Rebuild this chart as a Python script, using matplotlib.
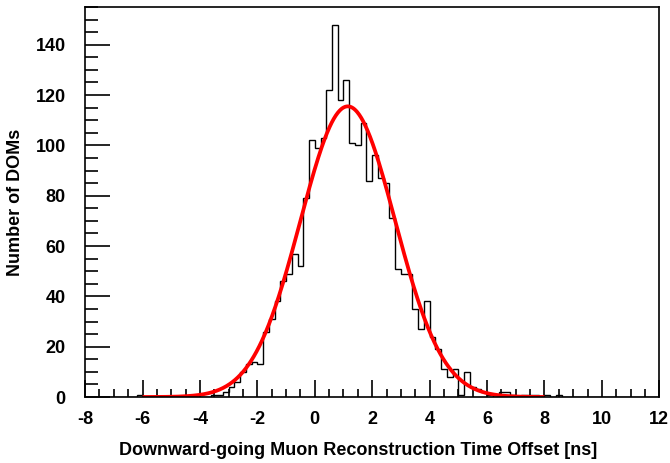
import numpy as np
import matplotlib.pyplot as plt
from matplotlib.ticker import MultipleLocator

plt.rcParams['font.family'] = ['Liberation Sans', 'DejaVu Sans']
plt.rcParams['font.weight'] = 'bold'
plt.rcParams['axes.unicode_minus'] = False

# histogram of time offsets, 0.2 ns bins from -8 to 12 ns
bin_edges = np.round(np.arange(-8.0, 12.0001, 0.2), 3)
counts = np.zeros(len(bin_edges) - 1)

# non-empty bins: (left edge, count)
filled_left = [-6.2, -3.6, -3.4, -3.2, -3.0, -2.8, -2.6, -2.4, -2.2, -2.0,
               -1.8, -1.6, -1.4, -1.2, -1.0, -0.8, -0.6, -0.4, -0.2, 0.0,
               0.2, 0.4, 0.6, 0.8, 1.0, 1.2, 1.4, 1.6, 1.8, 2.0,
               2.2, 2.4, 2.6, 2.8, 3.0, 3.2, 3.4, 3.6, 3.8, 4.0,
               4.2, 4.4, 4.6, 4.8, 5.0, 5.2, 5.4, 5.6, 5.8, 6.0,
               6.4, 6.6, 6.8, 7.2, 7.4, 7.6, 8.0, 8.4]
filled_counts = [1, 1, 1, 2, 4, 6, 10, 13, 14, 13,
                 26, 31, 38, 46, 49, 57, 52, 79, 102, 99,
                 103, 122, 148, 118, 126, 101, 100, 109, 86, 96,
                 87, 85, 71, 51, 49, 49, 35, 27, 38, 24,
                 19, 11, 8, 11, 1, 10, 4, 3, 2, 1,
                 2, 2, 1, 1, 1, 1, 1, 1]

for left, c in zip(filled_left, filled_counts):
    idx = int(round((left + 8.0) / 0.2))
    counts[idx] = c

# gaussian fit parameters
fit_amp = 115.5
fit_mean = 1.15
fit_sigma = 1.65
fit_range = (-6.0, 8.0)

fig = plt.figure(figsize=(6.7, 4.63), dpi=100)
ax = fig.add_axes([0.127, 0.1425, 0.857, 0.8425])

ax.stairs(counts, bin_edges, color='black', linewidth=1.0, baseline=0)

xf = np.linspace(fit_range[0], fit_range[1], 600)
yf = fit_amp * np.exp(-0.5 * ((xf - fit_mean) / fit_sigma) ** 2)
ax.plot(xf, yf, color='#ff0000', linewidth=2.7, solid_capstyle='butt')

ax.set_xlim(-8, 12)
ax.set_ylim(0, 155)

ax.xaxis.set_major_locator(MultipleLocator(2))
ax.xaxis.set_minor_locator(MultipleLocator(0.5))
ax.yaxis.set_major_locator(MultipleLocator(20))
ax.yaxis.set_minor_locator(MultipleLocator(5))

ax.tick_params(axis='x', which='major', direction='in', length=12, width=1.2,
               top=False, labelsize=13, pad=10)
ax.tick_params(axis='x', which='minor', direction='in', length=6, width=1.2, top=False)
ax.tick_params(axis='y', which='major', direction='in', length=18, width=1.2,
               right=False, labelsize=13, pad=14)
ax.tick_params(axis='y', which='minor', direction='in', length=9, width=1.2, right=False)

for spine in ax.spines.values():
    spine.set_linewidth(1.2)

ax.set_xlabel('Downward-going Muon Reconstruction Time Offset [ns]',
              fontsize=13, fontweight='bold', labelpad=13)
ax.xaxis.set_label_coords(0.476, -0.115)
ax.set_ylabel('Number of DOMs', fontsize=13, fontweight='bold')
ax.yaxis.set_label_coords(-0.106, 0.5)

fig.savefig('out.png', dpi=100)
